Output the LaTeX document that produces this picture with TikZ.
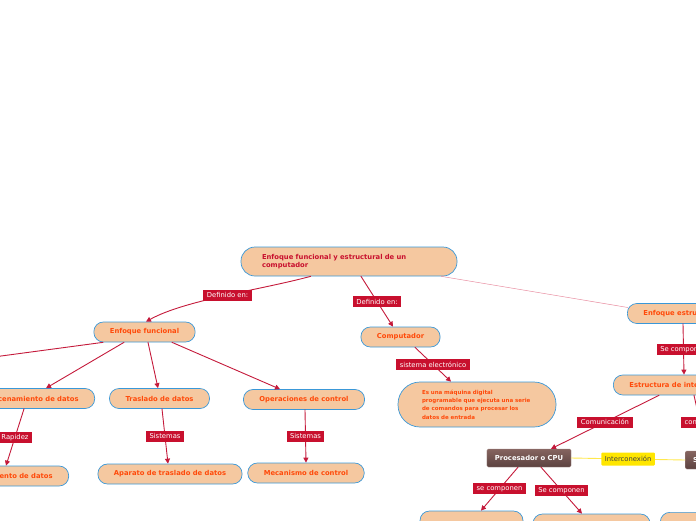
\documentclass[tikz,border=0pt]{standalone}
\usepackage{fontspec}
\newfontfamily\mapfont{DejaVu Sans}
\usepackage{tikz}
\usetikzlibrary{arrows.meta,calc}

\definecolor{peach}{HTML}{F5C8A0}
\definecolor{bluerim}{HTML}{3A98D8}
\definecolor{orangetxt}{HTML}{FF4A0A}
\definecolor{crimson}{HTML}{C8102E}
\definecolor{linkred}{HTML}{C41A3B}
\definecolor{pinkline}{HTML}{E88CA0}
\definecolor{yellowtag}{HTML}{FFE600}
\definecolor{yellowline}{HTML}{FFE84D}
\definecolor{cputop}{HTML}{85645F}
\definecolor{cpubot}{HTML}{5C4240}

\begin{document}
\begin{tikzpicture}[
  x=1pt, y=-1pt,
  font=\mapfont,
  line cap=round,
  line join=round,
  >={Triangle[length=5pt,width=5pt]},
  topic/.style={
    rectangle,
    rounded corners=9.5pt,
    minimum height=20pt,
    inner xsep=16pt,
    inner ysep=2pt,
    line width=0.7pt,
    draw=bluerim,
    fill=peach,
    text=orangetxt,
    font=\mapfont\bfseries\fontsize{6.8}{8.3}\selectfont
  },
  darkbox/.style={
    rectangle,
    rounded corners=1.5pt,
    minimum height=18pt,
    inner xsep=8pt,
    draw=cputop!80!white,
    line width=0.4pt,
    top color=cputop,
    bottom color=cpubot,
    text=white,
    font=\mapfont\bfseries\fontsize{6.8}{8.3}\selectfont
  },
  arr/.style={
    ->,
    line width=0.9pt,
    draw=linkred
  },
  lbl/.style={
    rectangle,
    fill=crimson,
    text=white,
    minimum height=11pt,
    inner xsep=3.5pt,
    inner ysep=1.5pt,
    font=\mapfont\fontsize{6.8}{7.5}\selectfont
  },
  ylbl/.style={
    lbl,
    fill=yellowtag,
    text=black!75,
    minimum height=13pt,
    rounded corners=1pt
  }
]

\useasboundingbox (0,0) rectangle (696,520);
\clip (0,0) rectangle (696,520);

% central topic
\node[topic, text=crimson, text width=174pt, align=left, inner xsep=21pt,
  minimum height=29pt, rounded corners=14pt] (root) at (349,261.5)
  {Enfoque funcional y estructural de un\\computador};

% first level
\node[topic] (fun) at (144.5,332) {Enfoque funcional};
\node[topic] (comp) at (400.5,337) {Computador};
\node[topic, anchor=west] (estr) at (627,313.5) {Enfoque estructural};

% functional branch
\node[topic, anchor=east] (alm) at (95,398.5) {Almacenamiento de datos};
\node[topic] (tra) at (159.5,398.5) {Traslado de datos};
\node[topic] (ope) at (304,399.5) {Operaciones de control};
\node[topic, anchor=east] (ele) at (69,476) {Elemento de almacenamiento de datos};
\node[topic] (apa) at (170,474) {Aparato de traslado de datos};
\node[topic] (mec) at (306,473) {Mecanismo de control};

% computer definition
\node[topic, text width=110pt, align=left, inner xsep=24pt, inner ysep=3pt,
  minimum height=45pt, rounded corners=22pt,
  font=\mapfont\bfseries\fontsize{5.5}{8.4}\selectfont] (def) at (477,404.5)
  {Es una máquina digital\\programable que ejecuta una serie\\de comandos para procesar los\\datos de entrada};

% structural branch
\node[topic, anchor=west] (inter) at (613,385) {Estructura de interconexión};
\node[darkbox] (cpu) at (529,458) {Procesador o CPU};
\node[darkbox, anchor=west] (es) at (685,460) {Sistema de E/S};
\node[topic, minimum width=103pt] (low1) at (471.5,521) {};
\node[topic, minimum width=117pt] (low2) at (591.5,524) {};
\node[topic, anchor=north west, minimum width=60pt] (low3) at (660,512) {};
\coordinate (offleft) at (-40,361.5);
\coordinate (offright) at (706,449);

% connectors
\draw[arr] ($(root.south west)+(70,0)$) .. controls (260,290) and (185,300) ..
  node[lbl, pos=0.48] {Definido en:} ($(fun.north)+(1.5,0)$);
\draw[arr] ($(root.south)+(12,0)$) -- node[lbl] {Definido en:} ($(comp.north)+(-7.5,0)$);
\draw[line width=0.5pt, draw=pinkline] ($(root.south east)+(-16,0)$) -- ($(estr.west)+(1,-6)$);

\draw[arr] ($(fun.south)+(-41.5,0)$) -- (offleft);
\draw[arr] ($(fun.south)+(-20.5,0)$) -- ($(alm.north east)+(-49,0)$);
\draw[arr] ($(fun.south)+(3.5,0)$) -- ($(tra.north)+(-1.5,0)$);
\draw[arr] ($(fun.south)+(27.5,0)$) -- ($(ope.north)+(-24,0)$);

\draw[arr] ($(alm.south east)+(-71,0)$) -- node[lbl] {Rapidez} ($(ele.north east)+(-63,0)$);
\draw[arr] ($(tra.south)+(2.5,0)$) -- node[lbl] {Sistemas} ($(apa.north)+(-2,0)$);
\draw[arr] ($(ope.south)+(1,0)$) -- node[lbl] {Sistemas} (mec.north);

\draw[arr] ($(comp.south)+(14.5,0)$) -- node[lbl] {sistema electrónico} ($(def.north)+(-26,0)$);

\draw[arr] ($(estr.south west)+(56,0)$) -- node[lbl] {Se componen} ($(inter.north west)+(71,0)$);
\draw[arr] ($(inter.south west)+(46,0)$) -- node[lbl] {Comunicación} ($(cpu.north)+(22,0)$);
\draw[arr] ($(inter.south west)+(81,0)$) -- node[lbl] {conexión} (offright);

\draw[line width=0.9pt, draw=yellowline] (cpu.east) -- node[ylbl] {Interconexión} (es.west);
\draw[arr] ($(cpu.south)+(-11,0)$) -- node[lbl] {se componen} ($(low1.north)+(9.5,0)$);
\draw[arr] ($(cpu.south)+(12,0)$) -- node[lbl] {Se componen} ($(low2.north)+(-9.5,0)$);

\end{tikzpicture}
\end{document}
